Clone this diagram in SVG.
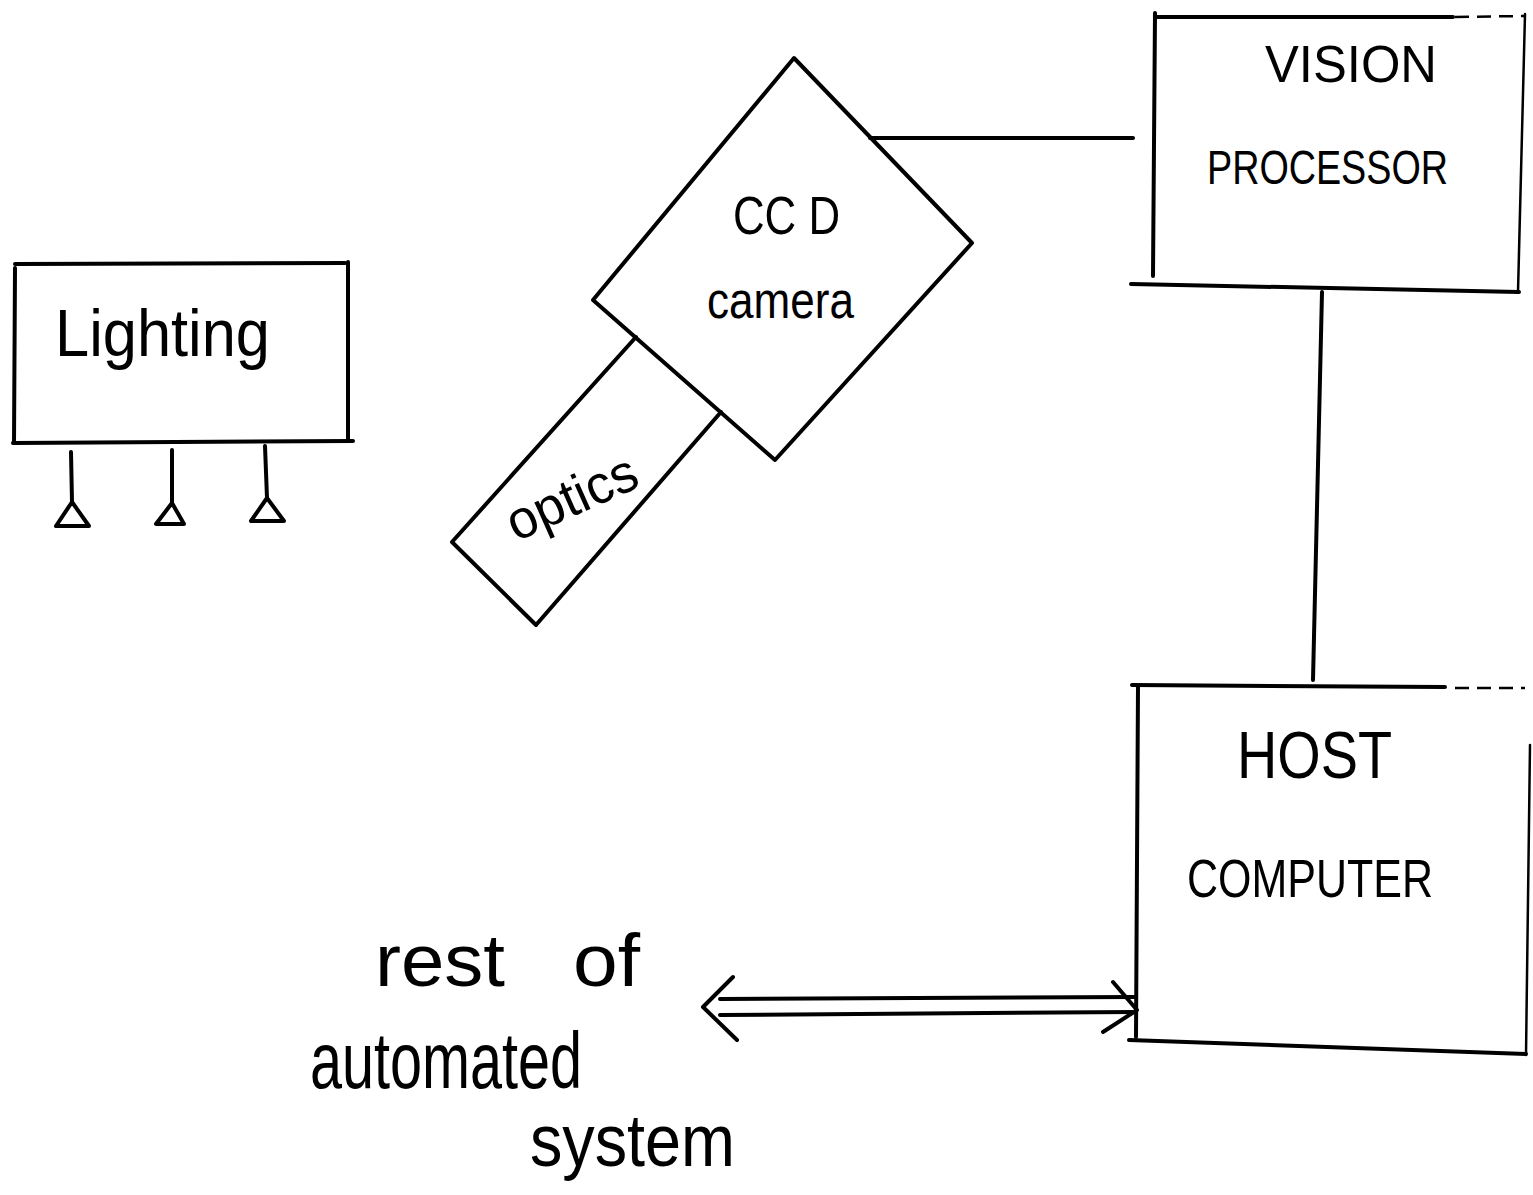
<svg xmlns="http://www.w3.org/2000/svg" width="1533" height="1195" viewBox="0 0 1533 1195">
<style>
.ln{stroke:#000;stroke-width:4;fill:none;stroke-linecap:round;stroke-linejoin:round}
.thin{stroke:#000;stroke-width:2.5;fill:none;stroke-linecap:round}
.dash{stroke:#000;stroke-width:2.5;fill:none;stroke-dasharray:14 8}
.t{font-family:"Liberation Sans",Arial,sans-serif;fill:#000}
</style>
<rect width="1533" height="1195" fill="#fff"/>

<g id="lighting">
  <line class="ln" x1="15" y1="264" x2="345" y2="263"/>
  <line class="ln" x1="15" y1="268" x2="14" y2="443"/>
  <line class="ln" x1="348" y1="262" x2="348" y2="440"/>
  <line class="ln" x1="13" y1="443" x2="353" y2="441"/>
  <line class="ln" x1="71" y1="452" x2="72" y2="502"/>
  <polygon class="ln" points="72,502 56,526 89,526"/>
  <line class="ln" x1="172" y1="450" x2="172" y2="503"/>
  <polygon class="ln" points="172,503 156,524 184,524"/>
  <line class="ln" x1="265" y1="446" x2="267" y2="498"/>
  <polygon class="ln" points="267,498 251,521 284,521"/>
  <text class="t" x="55" y="356" font-size="66" textLength="215" lengthAdjust="spacingAndGlyphs">Lighting</text>
</g>

<g id="ccd-camera">
  <polygon class="ln" points="794,58 972,243 775,460 593,300"/>
  <text class="t" x="733" y="234" font-size="54" textLength="107" lengthAdjust="spacingAndGlyphs">CC D</text>
  <text class="t" x="707" y="318" font-size="52" textLength="147" lengthAdjust="spacingAndGlyphs">camera</text>
</g>

<g id="optics">
  <polyline class="ln" points="636,337 452,542 536,625 721,412"/>
  <text class="t" font-size="54" textLength="138" lengthAdjust="spacingAndGlyphs" transform="translate(516,542) rotate(-24)">optics</text>
</g>

<g id="vision-processor">
  <line class="ln" x1="1157" y1="17" x2="1453" y2="17"/>
  <line class="dash" x1="1455" y1="17" x2="1525" y2="16"/>
  <line class="ln" x1="1155" y1="13" x2="1153" y2="276"/>
  <line class="thin" x1="1525" y1="14" x2="1518" y2="292"/>
  <line class="ln" x1="1131" y1="284" x2="1519" y2="292"/>
  <text class="t" x="1265" y="82" font-size="52" textLength="172" lengthAdjust="spacingAndGlyphs">VISION</text>
  <text class="t" x="1207" y="184" font-size="48" textLength="241" lengthAdjust="spacingAndGlyphs">PROCESSOR</text>
</g>

<g id="host-computer">
  <line class="ln" x1="1132" y1="685" x2="1445" y2="687"/>
  <line class="dash" x1="1455" y1="688" x2="1525" y2="688"/>
  <line class="ln" x1="1138" y1="686" x2="1136" y2="1037"/>
  <line class="thin" x1="1530" y1="745" x2="1526" y2="1055"/>
  <line class="ln" x1="1129" y1="1040" x2="1526" y2="1054"/>
  <text class="t" x="1237" y="778" font-size="66" textLength="155" lengthAdjust="spacingAndGlyphs">HOST</text>
  <text class="t" x="1187" y="897" font-size="54" textLength="246" lengthAdjust="spacingAndGlyphs">COMPUTER</text>
</g>

<g id="rest-of-automated-system">
  <text class="t" x="375" y="986" font-size="74" textLength="130" lengthAdjust="spacingAndGlyphs">rest</text>
  <text class="t" x="573" y="986" font-size="74" textLength="67" lengthAdjust="spacingAndGlyphs">of</text>
  <text class="t" x="310" y="1088" font-size="80" textLength="272" lengthAdjust="spacingAndGlyphs">automated</text>
  <text class="t" x="530" y="1166" font-size="74" textLength="205" lengthAdjust="spacingAndGlyphs">system</text>
</g>

<g id="connectors">
  <line class="ln" x1="870" y1="138" x2="1133" y2="138"/>
  <line class="ln" x1="1322" y1="292" x2="1313" y2="680"/>
  <line class="ln" x1="720" y1="999" x2="1135" y2="997"/>
  <line class="ln" x1="720" y1="1015" x2="1135" y2="1012"/>
  <polyline class="ln" points="733,977 703,1007 737,1040"/>
  <polyline class="ln" points="1113,982 1137,1010 1103,1032"/>
</g>
</svg>
